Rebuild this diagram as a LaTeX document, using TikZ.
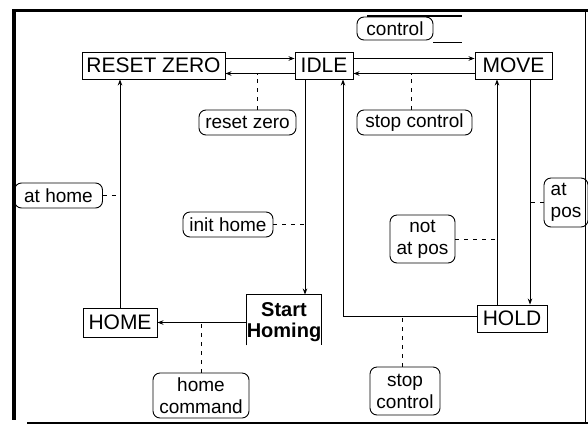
\documentclass[tikz,border=0pt]{standalone}
\usepackage{fontspec}
\setmainfont{Liberation Sans}
\usepackage{tikz}
\usetikzlibrary{arrows.meta,positioning,calc}

\tikzset{
  state/.style={draw,line width=.9pt,inner sep=0pt,text depth=-1pt,font=\fontsize{21}{22}\selectfont},
  cond/.style={draw,line width=.9pt,rounded corners=7pt,inner sep=0pt,align=center,font=\fontsize{19}{22}\selectfont},
  lead/.style={line width=.8pt,dash pattern=on 4pt off 5pt},
  tr/.style={->,line width=.9pt}
}

\begin{document}
\begin{tikzpicture}[x=1pt,y=-1pt,>={Stealth[length=6pt,width=4.5pt]}]
\useasboundingbox (0,0) rectangle (588,426);
% frame
\draw[line width=4pt] (14,9) -- (14,420);
\draw[line width=3pt] (12,10) -- (588,10);
\draw[line width=1pt] (585,12) -- (585,423);
\draw[line width=1.5pt] (27,423) -- (588,423);
% states
\node[state,minimum width=143pt,minimum height=27pt] (rz) at (153.5,65.5) {RESET ZERO};
\node[state,minimum width=58pt,minimum height=27pt] (idle) at (324,65.5) {IDLE};
\node[state,minimum width=77pt,minimum height=27pt] (move) at (513.5,65.5) {MOVE};
\node[state,minimum width=70pt,minimum height=27pt] (hold) at (512,318.5) {HOLD};
\node[state,minimum width=74pt,minimum height=29pt] (home) at (120,322.5) {HOME};
\node[state,draw=none,align=center,text depth=0pt,font=\bfseries\fontsize{20}{21}\selectfont,minimum width=74pt,minimum height=50pt] (sh) at (284,320) {Start\\Homing};
\draw[line width=.9pt] (sh.south west) -- (sh.north west) -- (sh.north east) -- (sh.south east);
% conditions
\node[cond,minimum width=76pt,minimum height=23pt] (ctrl) at (395,28.5) {control};
\draw[line width=1.5pt] (367,16) -- (462,16);
\draw[line width=.8pt] (433,42) -- (462,42);
\node[cond,minimum width=97pt,minimum height=25pt] (rzl) at (247.5,122.5) {reset zero};
\node[cond,minimum width=115pt,minimum height=25pt] (scl) at (414.5,122.5) {stop control};
\node[cond,minimum width=88pt,minimum height=25pt] (ahl) at (58.5,195.5) {at home};
\node[cond,minimum width=90pt,minimum height=25pt] (ihl) at (228,224.5) {init home};
\node[cond,minimum width=65pt,minimum height=48pt] (napl) at (422.5,239) {not\\at pos};
\node[cond,align=left,minimum width=44pt,minimum height=49pt] (apl) at (566,202.5) {at\\pos\hspace{9pt}};
\node[cond,minimum width=96pt,minimum height=45pt] (hcl) at (201,395.5) {home\\command};
\node[cond,minimum width=70pt,minimum height=48pt] (scb) at (405,391) {stop\\control};
% transitions
\coordinate (rzhi) at ([yshift=7]rz.east);
\coordinate (rzlo) at ([yshift=-8]rz.east);
\coordinate (mvhi) at ([yshift=7]move.west);
\coordinate (mvlo) at ([yshift=-8]move.west);
\coordinate (idl) at ([xshift=-19]idle.south);
\coordinate (idr) at ([xshift=19]idle.south);
\coordinate (hdl) at ([xshift=-15]hold.north);
\coordinate (hdr) at ([xshift=18]hold.north);
\coordinate (hdw) at ([yshift=2.5]hold.west);
\draw[tr] (rzhi) -- (rzhi -| idle.west);
\draw[tr] (rzlo -| idle.west) -- (rzlo);
\draw[tr] (mvhi -| idle.east) -- (mvhi);
\draw[tr] (mvlo) -- (mvlo -| idle.east);
\draw[tr] (idl) -- (idl |- sh.north);
\draw[tr] (hdw) -| (idr);
\draw[tr] (hdl) -- (hdl |- move.south);
\draw[tr] (hdr |- move.south) -- (hdr);
\draw[tr] (home.north) -- (home.north |- rz.south);
\draw[tr] (sh.west |- home.east) -- (home.east);
% leaders
\draw[lead] ([xshift=10]rzl.north) -- ([xshift=10]rzl.north |- rzlo);
\draw[lead] ([xshift=-3]scl.north) -- ([xshift=-3]scl.north |- mvlo);
\draw[lead] (ahl.east) -- (ahl.east -| home.north);
\draw[lead] (ihl.east) -- (ihl.east -| idl);
\draw[lead] (napl.east) -- (napl.east -| hdl);
\draw[lead] (apl.west) -- (apl.west -| hdr);
\draw[lead] (hcl.north) -- (hcl.north |- home.east);
\draw[lead] ([xshift=-3]scb.north) -- ([xshift=-3]scb.north |- hdw);
\end{tikzpicture}
\end{document}
